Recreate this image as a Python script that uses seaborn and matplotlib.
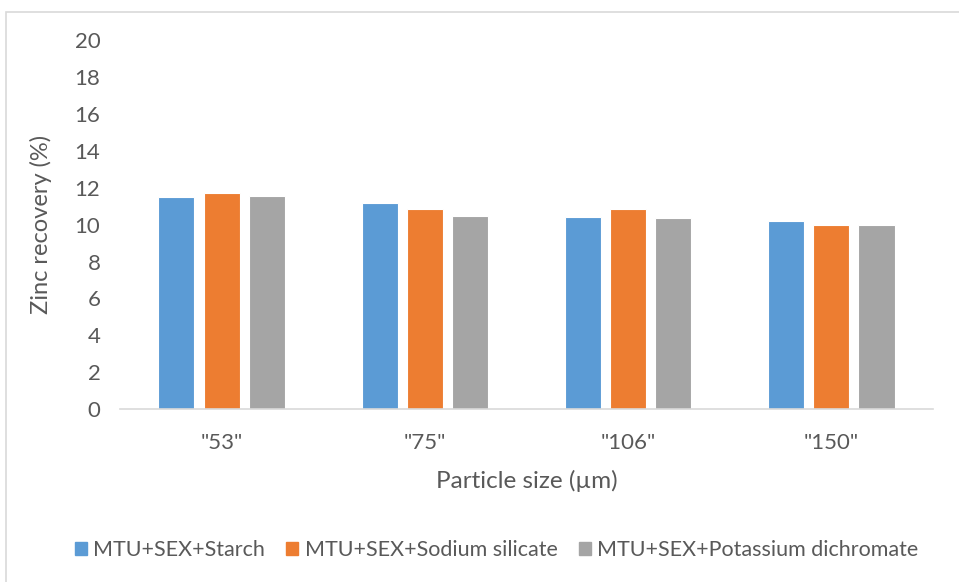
import seaborn as sns
import matplotlib.pyplot as plt
import matplotlib.patches as mpatches
import pandas as pd

sizes = ['"53"', '"75"', '"106"', '"150"']
starch = [11.5, 11.2, 10.42, 10.2]
silicate = [11.7, 10.85, 10.85, 10.0]
dichromate = [11.55, 10.48, 10.35, 10.0]
series = ['MTU+SEX+Starch', 'MTU+SEX+Sodium silicate', 'MTU+SEX+Potassium dichromate']
colors = ['#5B9BD5', '#ED7D31', '#A5A5A5']

df = pd.DataFrame({
    'size': sizes * 3,
    'recovery': starch + silicate + dichromate,
    'series': [series[0]] * 4 + [series[1]] * 4 + [series[2]] * 4,
})

sns.set_style('white')
plt.rcParams['font.family'] = ['Lato', 'DejaVu Sans']
txt = '#595959'

fig = plt.figure(figsize=(9.59, 5.82), dpi=100)
ax = fig.add_axes([0.125, 0.297, 0.848, 0.634])
sns.barplot(data=df, x='size', y='recovery', hue='series', palette=colors,
            saturation=1, width=0.665, gap=0.2, ax=ax,
            edgecolor='white', linewidth=0.8)

ax.set_ylim(0, 20)
ax.set_yticks(range(0, 21, 2))
ax.set_xlim(-0.5, 3.5)
for s in ['top', 'right', 'left']:
    ax.spines[s].set_visible(False)
ax.spines['bottom'].set_color('#D9D9D9')
ax.spines['bottom'].set_linewidth(1.2)
ax.tick_params(axis='both', length=0, labelsize=16, colors=txt, pad=14)
ax.tick_params(axis='x', pad=17)
ax.set_xlabel('Particle size (µm)', fontsize=17.5, color=txt, labelpad=12)
ax.set_ylabel('Zinc recovery (%)', fontsize=17, color=txt, labelpad=16)

handles = [mpatches.Patch(color=c, label=l) for c, l in zip(colors, series)]
ax.get_legend().remove()
fig.legend(handles=handles, loc='center', bbox_to_anchor=(0.518, 0.055), ncol=3,
           frameon=False, fontsize=15.5, labelcolor=txt, handlelength=0.55,
           handleheight=0.55, handletextpad=0.3, columnspacing=1.0)

fig.patches.append(mpatches.Rectangle((6 / 959, -0.01), 1.0, 1 - 12 / 582 + 0.01,
                                      transform=fig.transFigure, fill=False,
                                      edgecolor='#D9D9D9', linewidth=1.2))

fig.savefig('out.png', dpi=100)
